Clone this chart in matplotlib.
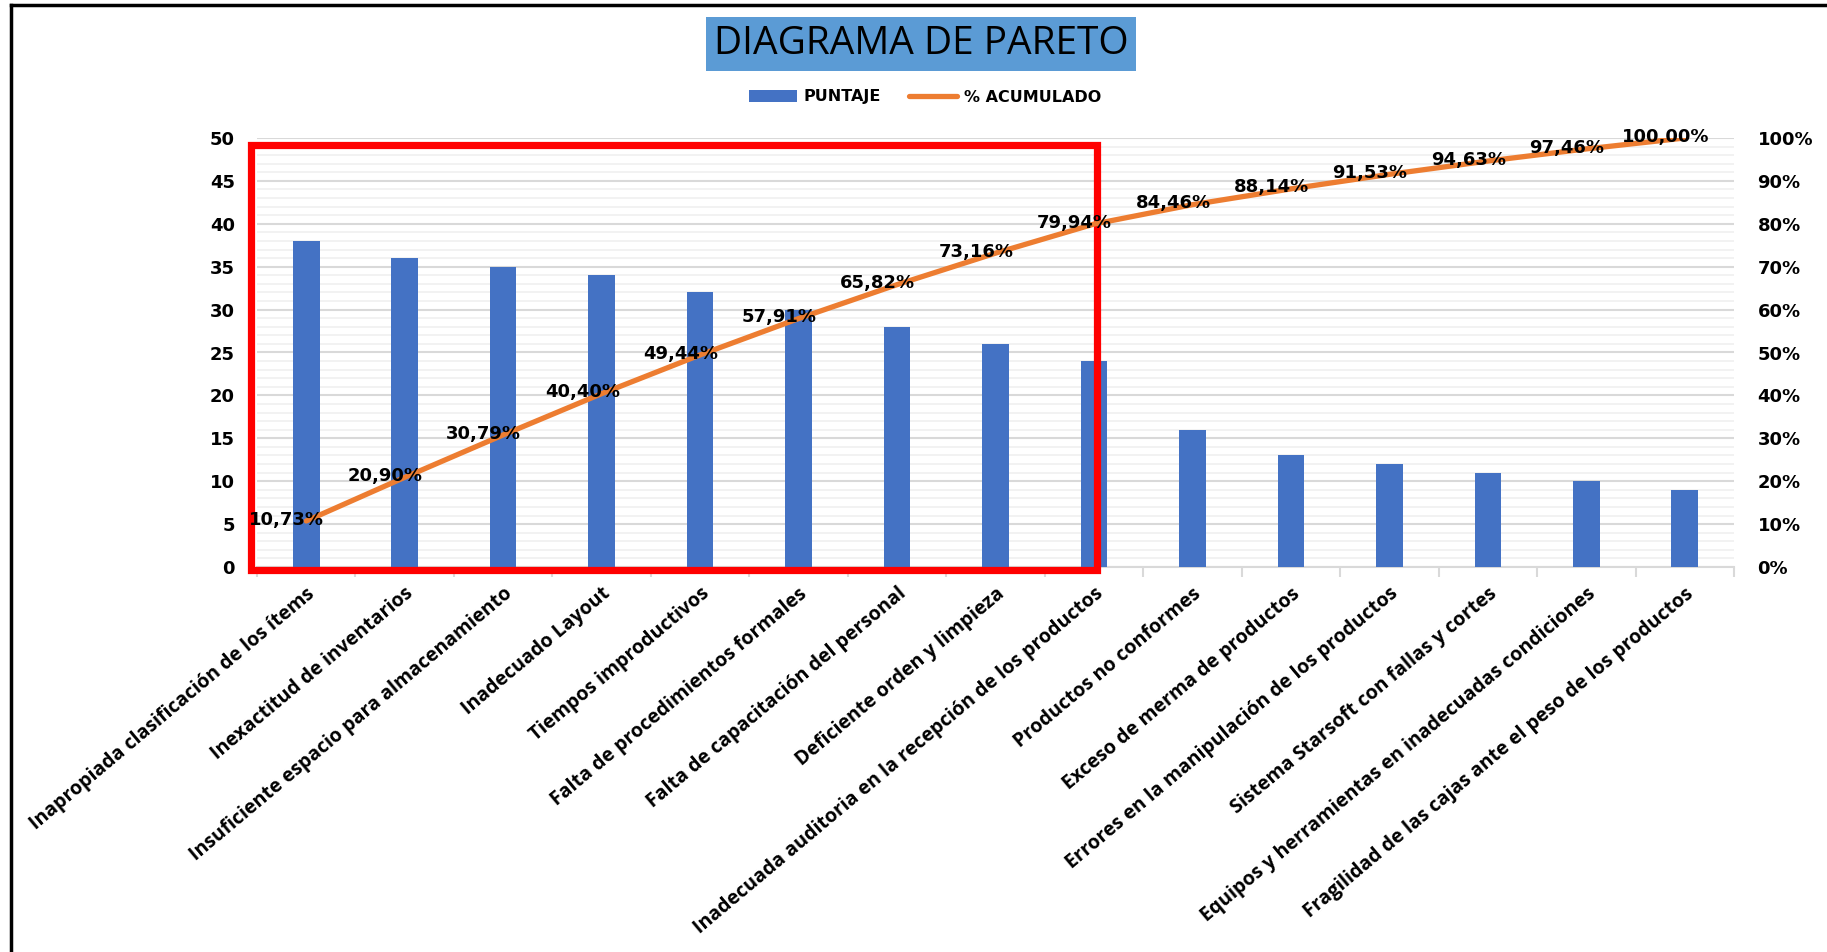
"""
Diagrama de Pareto: puntaje por causa y porcentaje acumulado.
"""
import matplotlib.pyplot as plt
from matplotlib.patches import Rectangle
from matplotlib.lines import Line2D
from matplotlib.ticker import MultipleLocator, PercentFormatter

causas = [
    'Inapropiada clasificación de los ítems',
    'Inexactitud de inventarios',
    'Insuficiente espacio para almacenamiento',
    'Inadecuado Layout',
    'Tiempos improductivos',
    'Falta de procedimientos formales',
    'Falta de capacitación del personal',
    'Deficiente orden y limpieza',
    'Inadecuada auditoria en la recepción de los productos',
    'Productos no conformes',
    'Exceso de merma de productos',
    'Errores en la manipulación de los productos',
    'Sistema Starsoft con fallas y cortes',
    'Equipos y herramientas en inadecuadas condiciones',
    'Fragilidad de las cajas ante el peso de los productos',
]
puntaje = [38, 36, 35, 34, 32, 30, 28, 26, 24, 16, 13, 12, 11, 10, 9]
acumulado = [10.73, 20.90, 30.79, 40.40, 49.44, 57.91, 65.82, 73.16, 79.94,
             84.46, 88.14, 91.53, 94.63, 97.46, 100.00]
n_vitales = 9  # causas dentro del recuadro rojo

AZUL = '#4472C4'
NARANJA = '#ED7D31'

fig = plt.figure(figsize=(18.27, 9.52), dpi=100)
ax = fig.add_axes([257 / 1827, 1 - 567 / 952, (1734 - 257) / 1827, (567 - 138) / 952])
ax2 = ax.twinx()

x = list(range(len(causas)))
bars = ax.bar(x, puntaje, width=0.27, color=AZUL, zorder=3, label='PUNTAJE')
ax.set_xlim(-0.5, len(causas) - 0.5)
ax.set_ylim(0, 50)
ax.yaxis.set_major_locator(MultipleLocator(5))
ax.yaxis.set_minor_locator(MultipleLocator(1))
ax.grid(axis='y', which='major', color='#d9d9d9', lw=1.5, zorder=0)
ax.grid(axis='y', which='minor', color='#f0f0f0', lw=1.2, zorder=0)
ax.set_axisbelow(True)

ax.set_xticks([i - 0.5 for i in range(len(causas) + 1)], minor=False)
ax.set_xticklabels([])
ax.set_xticks(x, minor=True)
ax.set_xticklabels(causas, minor=True, rotation=40, ha='right', rotation_mode='anchor',
                   fontsize=14, fontweight='bold', family='Open Sans')
ax.tick_params(axis='x', which='major', length=7, color='#d9d9d9', width=1.5)
ax.tick_params(axis='x', which='minor', length=0, pad=12)
ax.tick_params(axis='y', which='both', length=0, pad=16, labelsize=13)
for lab in ax.get_yticklabels():
    lab.set_fontweight('bold')

for side in ['top', 'right', 'left']:
    ax.spines[side].set_visible(False)
    ax2.spines[side].set_visible(False)
ax.spines['bottom'].set_color('#d9d9d9')
ax.spines['bottom'].set_linewidth(1.5)
ax2.spines['bottom'].set_visible(False)

ax2.plot(x, acumulado, color=NARANJA, lw=3.8, solid_capstyle='round', zorder=4,
         label='% ACUMULADO')
ax2.set_ylim(0, 100)
ax2.yaxis.set_major_locator(MultipleLocator(10))
ax2.yaxis.set_major_formatter(PercentFormatter(decimals=0))
ax2.tick_params(axis='y', length=0, pad=17, labelsize=13)
for lab in ax2.get_yticklabels():
    lab.set_fontweight('bold')

for xi, v in zip(x, acumulado):
    ax2.annotate(f'{v:.2f}%'.replace('.', ','), (xi, v), xytext=(-14, 1),
                 textcoords='offset points', ha='center', va='center',
                 fontsize=13, fontweight='bold', zorder=5, annotation_clip=False)

# recuadro rojo sobre las causas vitales
ax.add_patch(Rectangle((-0.56, -0.35), n_vitales - 1 + 0.59, 49.55, fill=False,
                       edgecolor='#FF0000', lw=5.2, zorder=6, clip_on=False))

# titulo con fondo azul
fig.text(921 / 1827, 1 - 44 / 952, 'DIAGRAMA DE PARETO', ha='center', va='center',
         fontsize=28, family='Open Sans', color='black',
         bbox=dict(boxstyle='square,pad=0.2', facecolor='#5B9BD5', edgecolor='none'))

handles = [bars, ax2.get_lines()[0]]
fig.legend(handles, ['PUNTAJE', '% ACUMULADO'], loc='center',
           bbox_to_anchor=(925 / 1827, 1 - 97 / 952), ncol=2, frameon=False,
           prop={'weight': 'bold', 'size': 11.5}, handlelength=3.0, columnspacing=1.8,
           handletextpad=0.4)

# marco negro de la imagen
fig.add_artist(Line2D([11 / 1827, 11 / 1827], [0, 1 - 5 / 952], color='black', lw=2.5))
fig.add_artist(Line2D([11 / 1827, 1], [1 - 5 / 952, 1 - 5 / 952], color='black', lw=2.5))

plt.savefig('out.png', dpi=100)
